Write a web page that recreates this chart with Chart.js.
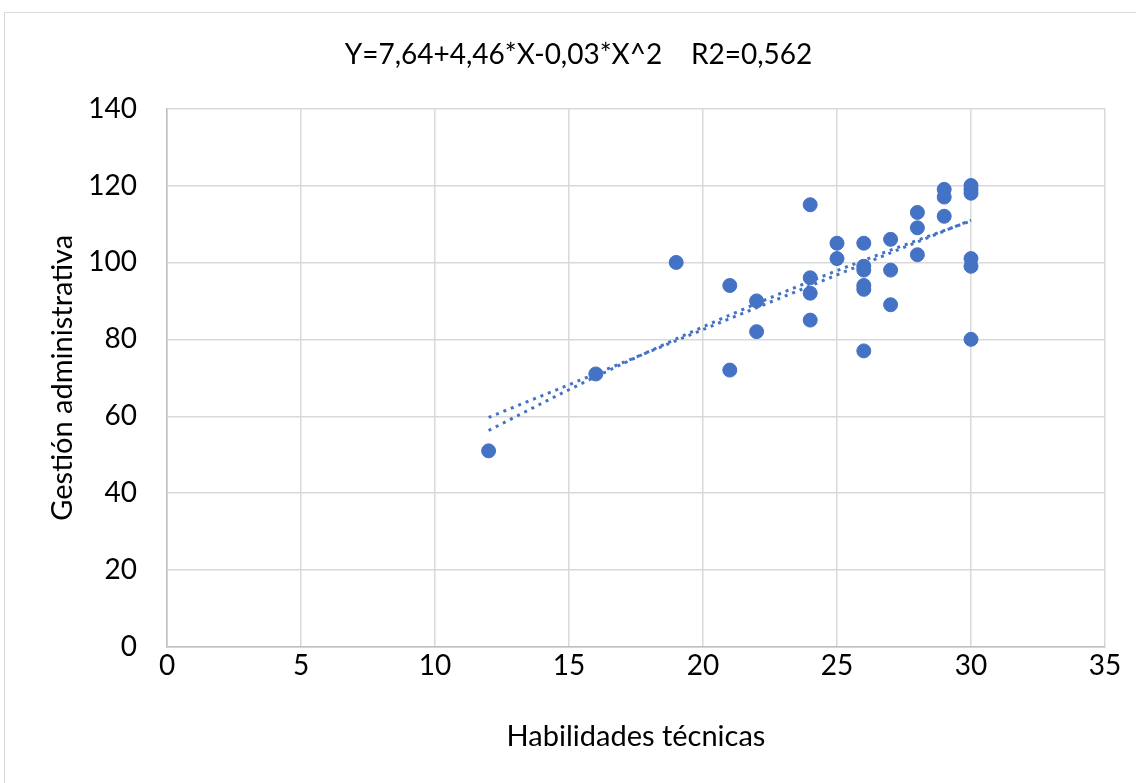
<!DOCTYPE html>
<html>
<head>
<meta charset="utf-8">
<script src="https://cdn.jsdelivr.net/npm/chart.js@4/dist/chart.umd.min.js"></script>
<style>
  html, body { margin: 0; padding: 0; background: #fff; overflow: hidden; }
  #wrap { position: relative; width: 1136px; height: 783px; }
  #frame { position: absolute; left: 4px; top: 12px; width: 1150px; height: 800px; border: 1px solid #d9d9d9; }
  canvas { position: absolute; left: 0; top: 0; }
</style>
</head>
<body>
<div id="wrap">
  <div id="frame"></div>
  <canvas id="myChart" width="1136" height="783"></canvas>
</div>
<script>
// Habilidades técnicas (x) vs Gestión administrativa (y)
const habilidades = [12,16,19,21,21,22,22,24,24,24,24,25,25,26,26,26,26,26,26,27,27,27,28,28,28,29,29,29,30,30,30,30,30,30];
const gestion     = [51,71,100,94,72,90,82,115,96,92,85,105,101,105,99,98,94,93,77,106,98,89,113,109,102,119,117,112,120,119,118,101,99,80];

// trend lines
const trendX    = [12,15,18,21,24,27,30];
const trendPoly = [56.3,66.9,76.9,86.3,95.1,103.2,110.8];
const trendLin  = [59.7,68.2,76.8,85.4,93.9,102.5,111.0];

const titleText = 'Y=7,64+4,46*X-0,03*X^2    R2=0,562';
const xTicks = [0,5,10,15,20,25,30,35];
const yTicks = [0,20,40,60,80,100,120,140];

const blue = '#4472C4';
const font = 'Lato, Calibri, sans-serif';

const pts = habilidades.map((x, i) => ({x: x, y: gestion[i]}));
const poly = trendX.map((x, i) => ({x: x, y: trendPoly[i]}));
const lin = trendX.map((x, i) => ({x: x, y: trendLin[i]}));

// title sits a bit right of the canvas centre in the original
const shiftTitle = {
  id: 'shiftTitle',
  afterLayout(chart) {
    if (chart.titleBlock) {
      chart.titleBlock.left += 52;
    }
  }
};

const ctx = document.querySelector('#myChart').getContext('2d');
new Chart(ctx, {
  type: 'scatter',
  data: {
    datasets: [
      {
        label: 'Gestión administrativa',
        data: pts,
        backgroundColor: blue,
        borderColor: blue,
        borderWidth: 1,
        pointRadius: 7,
        pointHoverRadius: 7
      },
      {
        type: 'line',
        label: 'Polinómica',
        data: poly,
        borderColor: blue,
        borderWidth: 3,
        borderDash: [3, 5],
        pointRadius: 0,
        fill: false,
        cubicInterpolationMode: 'monotone'
      },
      {
        type: 'line',
        label: 'Lineal',
        data: lin,
        borderColor: blue,
        borderWidth: 3,
        borderDash: [3, 5],
        pointRadius: 0,
        fill: false
      }
    ]
  },
  options: {
    responsive: false,
    animation: false,
    layout: { padding: { left: 0, right: 31, top: 0, bottom: 0 } },
    plugins: {
      legend: { display: false },
      tooltip: { enabled: false },
      title: {
        display: true,
        text: titleText,
        color: '#000',
        font: { family: font, size: 28, weight: 'normal' },
        padding: { top: 38, bottom: 37 }
      }
    },
    scales: {
      x: {
        type: 'linear',
        min: 0,
        max: 35,
        afterBuildTicks: (s) => { s.ticks = xTicks.map(v => ({value: v})); },
        afterFit: (s) => { s.height = 136; },
        ticks: {
          color: '#000',
          padding: 2,
          font: { family: font, size: 28 }
        },
        grid: { color: '#d9d9d9', lineWidth: 1.5, drawTicks: false },
        border: { color: '#bfbfbf', width: 1.5 },
        title: {
          display: true,
          text: 'Habilidades técnicas',
          color: '#000',
          font: { family: font, size: 29 },
          padding: { top: 0, bottom: 29 }
        }
      },
      y: {
        type: 'linear',
        min: 0,
        max: 140,
        afterBuildTicks: (s) => { s.ticks = yTicks.map(v => ({value: v})); },
        afterFit: (s) => { s.width = 167; },
        ticks: {
          color: '#000',
          padding: 30,
          font: { family: font, size: 28 }
        },
        grid: { color: '#d9d9d9', lineWidth: 1.5, drawTicks: false },
        border: { color: '#bfbfbf', width: 1.5 },
        title: {
          display: true,
          text: 'Gestión administrativa',
          color: '#000',
          font: { family: font, size: 29 },
          padding: { top: 45, bottom: 0 }
        }
      }
    }
  },
  plugins: [shiftTitle]
});
</script>
</body>
</html>
